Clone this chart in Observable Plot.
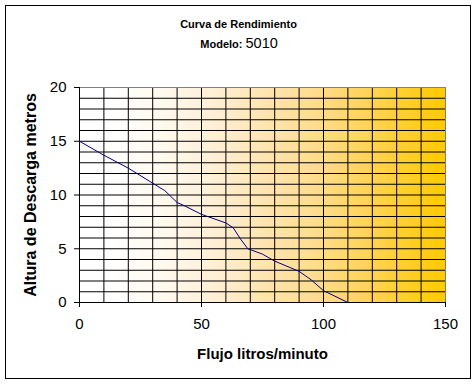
<!DOCTYPE html>
<html>
<head>
<meta charset="utf-8">
<script src="https://cdn.jsdelivr.net/npm/d3@7"></script>
<script src="https://cdn.jsdelivr.net/npm/@observablehq/plot@0.6"></script>
<style>
  html, body { margin: 0; padding: 0; background: #fff; }
  #wrap { position: relative; width: 476px; height: 384px; }
  #border { position: absolute; left: 5px; top: 5px; width: 464px; height: 372px; border: 1px solid #000; pointer-events: none; }
  svg { font-family: "Liberation Sans", Arial, sans-serif; }
</style>
</head>
<body>
<div id="wrap"><div id="border"></div></div>
<script>
const title = "Curva de Rendimiento";
const modelLabel = "Modelo:";
const modelNumber = "5010";
const xLabel = "Flujo litros/minuto";
const yLabel = "Altura de Descarga metros";

const flow = [0, 10, 20, 30, 35, 40, 43, 50, 60, 63, 66, 69, 75, 80, 90, 95, 100, 110];
const head = [15, 13.7, 12.5, 11.1, 10.4, 9.3, 9.0, 8.2, 7.4, 6.95, 5.9, 5.0, 4.5, 3.85, 2.9, 2.1, 1.1, 0];

const xTicks = [0, 50, 100, 150];
const yTicks = [0, 5, 10, 15, 20];
const xGrid = [10, 20, 30, 40, 50, 60, 70, 80, 90, 100, 110, 120, 130, 140];
const yGrid = [1, 2, 3, 4, 5, 6, 7, 8, 9, 10, 11, 12, 13, 14, 15, 16, 17, 18, 19];

const data = flow.map((f, i) => ({flow: f, head: head[i]}));

const font = "Liberation Sans, Arial, sans-serif";

const chart = Plot.plot({
  width: 476,
  height: 384,
  marginLeft: 79,
  marginRight: 31,
  marginTop: 87,
  marginBottom: 82,
  style: {fontFamily: font, background: "transparent", color: "#000"},
  x: {domain: [0, 150]},
  y: {domain: [0, 20]},
  marks: [
    Plot.frame({fill: "url(#bgGrad)", stroke: null}),
    Plot.gridX(xGrid, {stroke: "#000", strokeOpacity: 1, strokeWidth: 1}),
    Plot.gridY(yGrid, {stroke: "#000", strokeOpacity: 1, strokeWidth: 1}),
    Plot.ruleY([20], {stroke: "#808080"}),
    Plot.ruleX([150], {stroke: "#808080"}),
    Plot.ruleX([0], {stroke: "#000"}),
    Plot.ruleY([0], {stroke: "#000"}),
    Plot.axisX({ticks: xTicks, tickSize: 5, tickPadding: 11, fontSize: 15, label: null, stroke: "#000"}),
    Plot.axisY({ticks: yTicks, tickSize: 5, tickPadding: 8, fontSize: 15, label: null, stroke: "#000"}),
    Plot.line(data, {x: "flow", y: "head", stroke: "#000080", strokeWidth: 1}),
    Plot.text([title], {frameAnchor: "top", textAnchor: "middle", lineAnchor: "bottom", dx: -24, dy: -60, fontSize: 11, fontWeight: "bold", fill: "#000"}),
    Plot.text([modelLabel], {frameAnchor: "top", textAnchor: "end", lineAnchor: "bottom", dx: -20, dy: -40, fontSize: 11, fontWeight: "bold", fill: "#000"}),
    Plot.text([modelNumber], {frameAnchor: "top", textAnchor: "start", lineAnchor: "bottom", dx: -17, dy: -40, fontSize: 14.5, fill: "#000"}),
    Plot.text([xLabel], {frameAnchor: "bottom", textAnchor: "middle", lineAnchor: "bottom", dy: 56, fontSize: 15, fontWeight: "bold", fill: "#000"}),
    Plot.text([yLabel], {frameAnchor: "left", textAnchor: "middle", lineAnchor: "middle", rotate: -90, dx: -49, fontSize: 16, fontWeight: "bold", fill: "#000"})
  ]
});

const svg = d3.select(chart);
const grad = svg.insert("defs", ":first-child")
  .append("linearGradient")
  .attr("id", "bgGrad")
  .attr("x1", "0").attr("x2", "1").attr("y1", "0").attr("y2", "0");
[["0%", "#FFFFFF"], ["8%", "#FFFFFF"], ["24%", "#FFF8EC"], ["37%", "#FFEFD5"], ["51%", "#FFE4B0"], ["65%", "#FFDC8C"], ["78%", "#FFD45A"], ["100%", "#FFCA00"]]
  .forEach(([o, c]) => grad.append("stop").attr("offset", o).attr("stop-color", c));

chart.style.position = "absolute";
chart.style.left = "0";
chart.style.top = "0";
document.getElementById("wrap").insertBefore(chart, document.getElementById("border"));
</script>
</body>
</html>
